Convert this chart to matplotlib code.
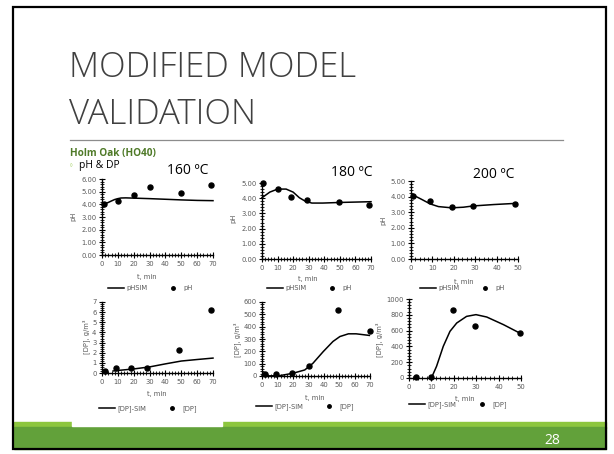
import matplotlib
matplotlib.use("Agg")
import matplotlib.pyplot as plt
from matplotlib.ticker import AutoMinorLocator, MultipleLocator, FormatStrFormatter
from matplotlib.lines import Line2D
from matplotlib.patches import Rectangle

# ---------------- data ----------------
# pH 160 ºC
ph160_t = [1.5, 10, 20, 30, 50, 69]
ph160 = [4.05, 4.29, 4.71, 5.34, 4.89, 5.55]
ph160_sim_t = [0, 2, 4, 6, 8, 10, 12, 15, 20, 30, 40, 50, 60, 70]
ph160_sim = [3.98, 4.05, 4.15, 4.27, 4.38, 4.45, 4.5, 4.51, 4.49, 4.45, 4.4, 4.35, 4.31, 4.29]

# pH 180 ºC
ph180_t = [0.5, 10, 18.5, 29, 49.5, 69]
ph180 = [5.0, 4.6, 4.07, 3.9, 3.75, 3.57]
ph180_sim_t = [0, 5, 10, 15.5, 20, 24, 27.5, 32, 39, 50, 70]
ph180_sim = [4.03, 4.4, 4.6, 4.6, 4.4, 4.03, 3.82, 3.68, 3.68, 3.72, 3.77]

# pH 200 ºC
ph200_t = [1, 9, 19, 29, 48.8]
ph200 = [4.05, 3.7, 3.36, 3.4, 3.55]
ph200_sim_t = [1, 5, 9, 12.8, 19, 24.5, 29, 38.6, 49.5]
ph200_sim = [4.1, 3.82, 3.53, 3.36, 3.28, 3.32, 3.4, 3.49, 3.57]

# [DP] 160 ºC
dp160_t = [1.7, 8.8, 18.4, 28.6, 48.7, 69]
dp160 = [0.23, 0.46, 0.46, 0.46, 2.3, 6.25]
dp160_sim_t = [7, 10, 20, 30, 40, 50, 60, 70]
dp160_sim = [0.2, 0.25, 0.4, 0.6, 0.9, 1.18, 1.33, 1.47]

# [DP] 180 ºC
dp180_t = [2.2, 9.3, 19.5, 30.3, 49, 70]
dp180 = [16, 16, 22, 81, 538, 364]
dp180_sim_t = [0, 11.5, 20, 27.7, 33, 39.7, 46, 50.5, 56, 61, 69.6]
dp180_sim = [0, 3, 22, 49, 103, 198, 280, 320, 342, 342, 329]

# [DP] 200 ºC
dp200_t = [3, 10, 19.8, 29.3, 49.7]
dp200 = [17, 17, 865, 662, 565]
dp200_sim_t = [10, 12.3, 15.3, 18.3, 21.3, 25.7, 29.9, 34.7, 42.2, 49.7]
dp200_sim = [0, 148, 401, 591, 696, 780, 802, 772, 675, 565]

temps = ["160 ºC", "180 ºC", "200 ºC"]

# ---------------- layout ----------------
W, H = 614, 454
fig = plt.figure(figsize=(W / 100, H / 100), dpi=100)
fig.patch.set_facecolor("white")

def fx(x):
    return x / W

def fy(y):
    return 1 - y / H

def add_axes_px(x0, x1, ytop, ybot):
    return fig.add_axes([fx(x0), fy(ybot), (x1 - x0) / W, (ybot - ytop) / H])

bg = fig.add_axes([0, 0, 1, 1])
bg.set_xlim(0, W)
bg.set_ylim(H, 0)
bg.axis("off")

# green footer
bg.add_patch(Rectangle((14, 422), 592, 6, color="#8DC63F", zorder=1))
bg.add_patch(Rectangle((14, 427), 592, 22, color="#62A13A", zorder=1))
bg.add_patch(Rectangle((72, 420), 150, 6, color="white", zorder=2))
bg.text(552, 440, "28", color="white", fontsize=10, ha="center", va="center",
        family="Open Sans", zorder=3)
# frame
bg.add_patch(Rectangle((13, 7), 593, 442, fill=False, ec="black", lw=1.6, zorder=4))

# title
bg.text(69, 77, "MODIFIED MODEL", fontsize=25, color="#404040", family="Open Sans",
        fontweight="light", ha="left", va="baseline")
bg.text(69, 124, "VALIDATION", fontsize=25, color="#404040", family="Open Sans",
        fontweight="light", ha="left", va="baseline")
bg.plot([70, 563], [140, 140], color="#8C8C8C", lw=0.9)
bg.text(70, 156, "Holm Oak (HO40)", fontsize=7.2, color="#4F7A28", fontweight="bold",
        family="Open Sans", ha="left", va="baseline")
bg.text(69, 168, "◦", fontsize=5.5, color="#8DC63F", ha="left", va="baseline")
bg.text(79, 168, "pH & DP", fontsize=7.5, color="black", family="Open Sans",
        ha="left", va="baseline")

GRAY = "#595959"
TFS = 4.9

def style(ax, xmax, ymax, ystep, yfmt):
    ax.set_xlim(0, xmax)
    ax.set_ylim(0, ymax)
    for s in ["top", "right"]:
        ax.spines[s].set_visible(False)
    for s in ["left", "bottom"]:
        ax.spines[s].set_linewidth(1.0)
        ax.spines[s].set_color("black")
    ax.xaxis.set_major_locator(MultipleLocator(10))
    ax.yaxis.set_major_locator(MultipleLocator(ystep))
    ax.xaxis.set_minor_locator(AutoMinorLocator(5))
    ax.yaxis.set_minor_locator(AutoMinorLocator(5))
    ax.yaxis.set_major_formatter(FormatStrFormatter(yfmt))
    ax.tick_params(which="major", direction="inout", length=4, width=0.8,
                   labelsize=TFS, labelcolor=GRAY, pad=2)
    ax.tick_params(which="minor", direction="inout", length=2.5, width=0.6)
    ax.patch.set_alpha(0)

def legend(ax, cx, cy, sim_label, pt_label):
    h = [Line2D([], [], color="black", lw=1.1),
         Line2D([], [], color="black", marker="o", ls="none", markersize=2.5)]
    ax.legend(h, [sim_label, pt_label], loc="center", ncol=2,
              bbox_to_anchor=(fx(cx), fy(cy)), bbox_transform=fig.transFigure,
              frameon=False, fontsize=TFS, labelcolor=GRAY, handlelength=2.4,
              columnspacing=2.6, handletextpad=0.3)

panels = [
    (102, 213, 179, 255, 70, 6, 1, "%.2f", ph160_t, ph160, ph160_sim_t, ph160_sim,
     "pH", (73, 216), (147, 277), (150, 288), ("pHSIM", "pH"), (188, 171, temps[0])),
    (262, 371, 183, 259, 70, 5, 1, "%.2f", ph180_t, ph180, ph180_sim_t, ph180_sim,
     "pH", (233, 218), (308, 279), (309, 288), ("pHSIM", "pH"), (352, 173, temps[1])),
    (411, 518, 181, 259, 50, 5, 1, "%.2f", ph200_t, ph200, ph200_sim_t, ph200_sim,
     "pH", (383, 220), (464, 282), (462, 288), ("pHSIM", "pH"), (494, 174, temps[2])),
    (102, 213, 302, 373, 70, 7, 1, "%d", dp160_t, dp160, dp160_sim_t, dp160_sim,
     "[DP], g/m³", (86, 337), (157, 394), (148, 409), ("[DP]-SIM", "[DP]"), None),
    (262, 370, 302, 376, 70, 600, 100, "%d", dp180_t, dp180, dp180_sim_t, dp180_sim,
     "[DP], g/m³", (237, 340), (315, 398), (305, 407), ("[DP]-SIM", "[DP]"), None),
    (409, 521, 299, 378, 50, 1000, 200, "%d", dp200_t, dp200, dp200_sim_t, dp200_sim,
     "[DP], g/m³", (379, 340), (465, 399), (458, 405), ("[DP]-SIM", "[DP]"), None),
]

for (x0, x1, yt, yb, xmax, ymax, ystep, fmt, t, v, st, sv, ylab, ylxy, xlxy, lgxy,
     labs, ttl) in panels:
    ax = add_axes_px(x0, x1, yt, yb)
    style(ax, xmax, ymax, ystep, fmt)
    ax.plot(st, sv, color="black", lw=1.1, zorder=3, clip_on=False)
    ax.plot(t, v, "o", color="black", markersize=3.6, zorder=4, clip_on=False)
    legend(ax, lgxy[0], lgxy[1], labs[0], labs[1])
    bg.text(ylxy[0], ylxy[1], ylab, rotation=90, fontsize=TFS, color=GRAY,
            ha="center", va="center")
    bg.text(xlxy[0], xlxy[1], "t, min", fontsize=TFS, color=GRAY,
            ha="center", va="center")
    if ttl is not None:
        bg.text(ttl[0], ttl[1], ttl[2], fontsize=10, color="black",
                family="Open Sans", ha="center", va="center")

fig.savefig("out.png", dpi=100)
